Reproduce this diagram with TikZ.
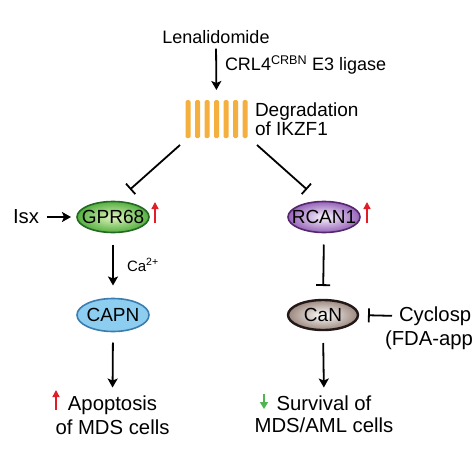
\documentclass[tikz,border=0pt]{standalone}
\usepackage{fontspec}
\setmainfont{Liberation Sans}
\usetikzlibrary{arrows.meta,shapes.geometric}
\definecolor{barorange}{RGB}{245,175,62}
\definecolor{gdark}{RGB}{35,105,35}
\definecolor{gout}{RGB}{85,175,65}
\definecolor{gin}{RGB}{225,245,190}
\definecolor{pdark}{RGB}{85,40,110}
\definecolor{pout}{RGB}{150,100,185}
\definecolor{pin}{RGB}{250,245,252}
\definecolor{bdark}{RGB}{60,125,175}
\definecolor{bfill}{RGB}{140,205,240}
\definecolor{cdark}{RGB}{35,25,25}
\definecolor{cout}{RGB}{155,135,125}
\definecolor{uparrow}{RGB}{225,30,40}
\definecolor{downarrow}{RGB}{80,180,80}
\newcommand\plab[1]{\makebox[0pt]{#1}}
\tikzset{
  every node/.style={inner sep=0pt, outer sep=0pt},
  big/.style={font=\fontsize{20.3}{24}\selectfont},
  small/.style={font=\fontsize{18}{19}\selectfont},
  prot/.style={ellipse, minimum width=72pt, minimum height=31pt, line width=1.6pt, font=\fontsize{19}{22}\selectfont},
  arr/.style={line width=1.8pt, -{Stealth[length=9pt,width=10pt,inset=2pt]}},
  inh/.style={line width=1.8pt, -{Bar[width=14pt,line width=1.8pt]}},
  redup/.style={line width=1.4pt, uparrow, -{Triangle[length=7pt,width=7pt]}},
  greendown/.style={line width=1.4pt, downarrow, -{Triangle[length=7pt,width=8pt]}},
}
\begin{document}
\begin{tikzpicture}[x=1pt,y=-1pt]
\clip (0,0) rectangle (474,474);
\useasboundingbox (0,0) rectangle (474,474);
\fill[white] (0,0) rectangle (474,474);
% top
\node[small] (lena) at (216,37) {Lenalidomide};
\node[small, anchor=west] (crl) at (225,65) {CRL4\textsuperscript{CRBN} E3 ligase};
\node[minimum width=63pt, minimum height=38pt] (ikzf) at (216.5,119) {};
\foreach \i in {0,...,6} {
  \fill[barorange, rounded corners=1.5pt] (185.5+9.5*\i,100) rectangle ++(5,38);
}
\node[font=\fontsize{19}{19}\selectfont, anchor=west, align=left] (degr) at (255,119) {Degradation\\of IKZF1};
\draw[arr, shorten <=5pt, shorten >=10pt] (lena.south) -- (ikzf.north);
% proteins
\node[prot, draw=gdark, shading=radial, inner color=gin, outer color=gout] (gpr) at (113,217) {\plab{GPR68}};
\node[prot, draw=pdark, shading=radial, inner color=pin, outer color=pout] (rcan) at (324,217) {\plab{RCAN1}};
\node[prot, draw=bdark, fill=bfill, minimum height=33pt] (capn) at (113,315) {\plab{CAPN}};
\node[prot, draw=cdark, line width=2.4pt, minimum width=70pt, minimum height=30pt, shading=radial, inner color=white, outer color=cout] (can) at (323,315) {\plab{CaN}};
% inhibition from IKZF1 degradation
\draw[inh] ([shift={(-5,7)}]ikzf.south west) -- ([shift={(17,-12)}]gpr.north);
\draw[inh] ([shift={(9,7)}]ikzf.south east) -- ([shift={(-17,-12)}]rcan.north);
% Isx
\node[big] (isx) at (26,217) {Isx};
\draw[arr, shorten <=8pt, shorten >=6pt] (isx.east) -- (gpr.west);
% up arrows
\draw[redup] (155,223) -- (155,202);
% GPR68 -> CAPN
\draw[arr, shorten <=12pt, shorten >=13pt] (gpr.south) -- (capn.north);
\node[font=\fontsize{15}{18}\selectfont, anchor=west] (ca) at (127,265) {Ca\textsuperscript{2+}};
% CAPN -> apoptosis
\node[big, align=center] (apop) at (112.5,415) {Apoptosis\\of MDS cells};
\draw[arr, shorten <=11pt, shorten >=8pt] (capn.south) -- (apop.north);
\draw[redup] (56,410) -- (56,390);
% RCAN1 -| CaN
\draw[inh, shorten <=12pt, shorten >=14pt] (rcan.south) -- (can.north);
\draw[redup] (367,223) -- (367,202);
% Cyclosporine (as printed, cut at the right edge)
\node[big, anchor=west] (cyclo) at (399,316) {Cyclosp};
\node[big, anchor=west] (fda) at (385,340) {(FDA-app};
\draw[inh, shorten <=7pt, shorten >=10pt] (cyclo.west) -- (can.east);
% CaN -> survival
\node[big, align=center, font=\fontsize{20.3}{22}\selectfont] (surv) at (324,414) {Survival of\\MDS/AML cells};
\draw[arr, shorten <=13pt, shorten >=8pt] (can.south) -- (surv.north);
\draw[greendown] (264,394) -- (264,409);
\end{tikzpicture}
\end{document}
